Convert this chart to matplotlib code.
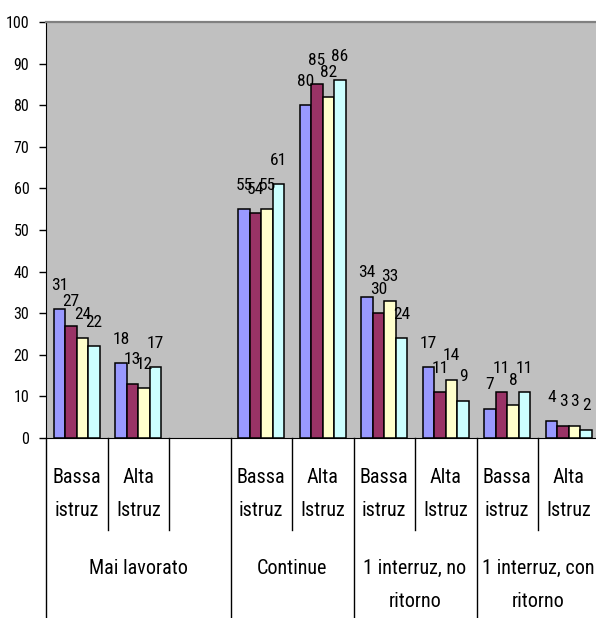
import numpy as np
import matplotlib
matplotlib.use("Agg")
import matplotlib.pyplot as plt
from matplotlib.transforms import blended_transform_factory

plt.rcParams['font.family'] = ['Roboto Condensed', 'DejaVu Sans']

# Sub-categories (one slot each; the empty slot pads the first group)
sub_labels = ['Bassa\nistruz', 'Alta\nIstruz', '',
              'Bassa\nistruz', 'Alta\nIstruz',
              'Bassa\nistruz', 'Alta\nIstruz',
              'Bassa\nistruz', 'Alta\nIstruz']
groups = ['Mai lavorato', 'Continue', '1 interruz, no\nritorno', '1 interruz, con\nritorno']
group_sizes = [3, 2, 2, 2]

# Series values per slot (nan = empty slot)
serie_1 = [31, 18, np.nan, 55, 80, 34, 17, 7, 4]
serie_2 = [27, 13, np.nan, 54, 85, 30, 11, 11, 3]
serie_3 = [24, 12, np.nan, 55, 82, 33, 14, 8, 3]
serie_4 = [22, 17, np.nan, 61, 86, 24, 9, 11, 2]

series = [serie_1, serie_2, serie_3, serie_4]
colors = ['#9999FF', '#993366', '#FFFFCC', '#CCFFFF']

W, H = 596, 618
fig = plt.figure(figsize=(W / 100, H / 100), dpi=100)
fig.patch.set_facecolor('white')
ax = fig.add_axes([46 / W, 180 / H, 553.5 / W, 416 / H])
ax.set_facecolor('#C0C0C0')

n = len(sub_labels)
x = np.arange(n)
bw = 0.187
for i, (vals, col) in enumerate(zip(series, colors)):
    xs = x + (i - 1.5) * bw
    v = np.array(vals, dtype=float)
    m = ~np.isnan(v)
    ax.bar(xs[m], v[m], width=bw, color=col, edgecolor='black', linewidth=1.1, zorder=3)
    for xi, vi in zip(xs[m], v[m]):
        ax.annotate(f"{int(vi)}", (xi, vi), xytext=(0, 24), textcoords='offset pixels',
                    ha='center', va='center', fontsize=12.5, zorder=4)

ax.set_xlim(-0.5, n - 0.5)
ax.set_ylim(0, 100)
ax.set_yticks(range(0, 101, 10))
ax.tick_params(axis='y', length=5, width=1, labelsize=11.5, pad=7)
ax.set_xticks([])

ax.spines['right'].set_visible(False)
ax.spines['top'].set_color('#808080')
ax.spines['top'].set_linewidth(1.6)
ax.spines['left'].set_color('black')
ax.spines['bottom'].set_color('black')

# Category axis: separators and labels
tr = blended_transform_factory(ax.transData, fig.transFigure)
y0 = 180 / H
y_short = (H - 530) / H
group_starts = np.cumsum([0] + group_sizes[:-1])
for b in range(n):
    xb = b - 0.5
    if b in group_starts:
        ax.plot([xb, xb], [y0, 0], color='black', lw=1, transform=tr, clip_on=False)
    else:
        ax.plot([xb, xb], [y0, y_short], color='black', lw=1, transform=tr, clip_on=False)

for xi, lab in zip(x, sub_labels):
    if lab:
        ax.text(xi, (H - 468) / H, lab, transform=tr, ha='center', va='top',
                fontsize=14.5, linespacing=1.95)

for start, size, g in zip(group_starts, group_sizes, groups):
    xc = start + (size - 1) / 2
    ax.text(xc, (H - 559) / H, g, transform=tr, ha='center', va='top',
            fontsize=14.5, linespacing=1.95)

fig.savefig('out.png', dpi=100)
